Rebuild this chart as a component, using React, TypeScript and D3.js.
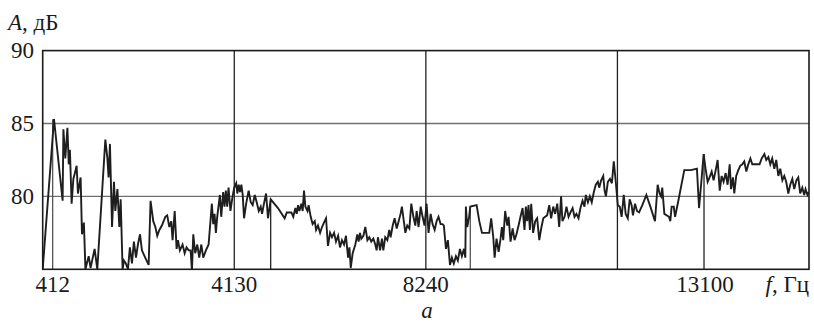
import React from 'react';
import * as d3 from 'd3';

// spectrum, x in chart steps (0..400, grid every 100), level in dB
const part1: [number, number][] = [
  [0, 75], [5.9, 85.3], [10.4, 79.7], [10.8, 84.6], [11.8, 82.6], [12.9, 84.7], [13.6, 82.2],
  [14.2, 83.2], [15.1, 79.5], [16, 81.2], [17, 81.7], [17.7, 82.1], [18.4, 80.2], [19.8, 81.3],
  [20.5, 77.4], [21.5, 78.2], [22.3, 75], [24, 75.9], [25, 75.1], [27.1, 76.4], [28.5, 75],
  [32.7, 83.9], [33.7, 82.7], [34.4, 81.3], [35.1, 83.6], [36.2, 77.9], [37.2, 81], [37.9, 79],
  [39, 80.5], [40, 77.9], [40.7, 79.8], [41.7, 75], [42.4, 75.6], [43.4, 75.4], [44.5, 75],
  [45.5, 76.5], [46.6, 75.4], [47.6, 76.9], [48.7, 75.8], [49.7, 76.7], [50.8, 77.4], [51.8, 76.3],
  [53.5, 75.8], [55.3, 75.3], [56.3, 79.7], [57.7, 78.3], [58.8, 77.9], [59.8, 77.3], [60.9, 77.7],
  [62.2, 78], [64, 78.6], [65, 78.7], [66.1, 77.9], [67.1, 78.3], [67.8, 77], [68.9, 79],
  [69.9, 76.4], [70.6, 77], [71.6, 76.3], [73, 76.7], [74.1, 76.1], [75.1, 76.5], [76.2, 76.3],
  [77.2, 76.3], [77.9, 74.9], [78.6, 77.4], [79.6, 76.1], [80.7, 76.7], [81.7, 75.8], [82.8, 76.7],
  [83.8, 75.8], [85.2, 76.3], [86.6, 76.7], [88.3, 79.5], [89, 78.1], [89.7, 78.8], [90.4, 77.5],
  [91.1, 78.6], [92.5, 80.1], [93.2, 78.6], [94.2, 80.3], [94.9, 79.3], [95.6, 80.4], [96.3, 79.3],
  [97, 80.6], [98, 79], [99.1, 80],
];

const part2: [number, number][] = [
  [100, 80.6], [101, 80.9], [101.6, 80.2], [102.3, 80.8], [103, 80.3], [103.7, 80.8], [104.4, 80.1],
  [105.1, 78.5], [106.2, 79.5], [107.5, 80.4], [108.6, 79.6], [109.6, 79.4], [110.7, 80.1],
  [111.7, 79.6], [112.8, 79], [113.8, 79.3], [114.5, 78.8], [115.5, 79.5], [116.6, 80.2],
  [117.6, 78.5], [119, 79.8], [122.8, 79.2], [126.3, 78.5], [127.4, 78.9], [129.8, 78.9],
  [130.8, 78.6], [131.9, 79.2], [132.6, 78.8], [133.3, 79.4], [134, 79], [135, 79.5], [135.7, 79],
  [136.4, 80.4], [137.1, 79.3], [138.2, 79], [138.8, 79.4], [139.9, 78.6], [140.9, 78.1],
  [142, 78.3], [142.7, 77.7], [143.7, 78], [144.8, 77.5], [145.8, 77.9], [146.8, 78.2],
  [147.9, 78.5], [148.9, 76.6], [150, 77.5], [151, 77.2], [152.1, 77.5], [153.1, 76.9],
  [154.2, 77.3], [155.2, 76.5], [156.2, 77], [157.3, 76.7], [158.3, 77.3], [159.4, 75.8],
  [160.1, 76.5], [160.8, 75.1], [161.8, 76.1], [163.2, 76.7], [164.2, 77.4], [164.9, 76.9],
  [165.6, 77.5], [166.3, 77.1], [167.4, 77.3], [168.4, 77.9], [169.5, 77], [170.5, 77.2],
  [171.5, 76.9], [172.6, 77.1], [173.6, 76.7], [174.3, 76.3], [175, 77.2], [176.1, 76.3],
  [177.1, 77.1], [177.8, 76.3], [178.8, 77.2], [179.9, 77], [180.9, 77.7], [181.6, 77.2],
  [182.7, 78], [183.7, 78.5], [184.8, 77.8], [185.8, 78.3], [186.8, 78.8], [187.5, 79.3],
  [188.6, 78.2], [189.3, 77.5], [190.3, 78], [191.4, 77.8], [192.4, 79.5], [193.5, 78.6],
  [194.5, 78], [195.2, 79], [196.2, 77.9], [197.3, 79.3], [198.3, 78.6], [199.3, 78],
];

const part3: [number, number][] = [
  [200.4, 79.5], [201.4, 77.5], [202.5, 78.8], [203.5, 78.1], [204.6, 77.7], [205.6, 78.3],
  [206.6, 78.6], [207.7, 78.1], [208.7, 78.1], [209.4, 78], [210.5, 76.4], [211.5, 77],
  [212.6, 75.3], [213.6, 75.8], [214.6, 75.4], [215.7, 75.9], [216.7, 75.6], [217.8, 76.4],
  [218.8, 75.9], [219.9, 76.4], [220.6, 75.8], [220.9, 79.3], [221.6, 77.9], [222.6, 78.6],
  [223.2, 79.3], [226.5, 79.4], [227.9, 78.3], [229.3, 77.5], [233.1, 77.5], [234.1, 78.5],
  [235.2, 77.2], [235.9, 75.8], [236.9, 77.1], [238, 76.2], [239, 77.1], [239.7, 77.9],
  [240.4, 77], [241.4, 79], [242.5, 78], [243.2, 78.6], [244.2, 76.9], [245.3, 77.8], [246.3, 77],
  [247.3, 77.4], [248.4, 78], [249.4, 78.6], [250.5, 79.2], [251.5, 77.7], [252.2, 79.3],
  [252.9, 78.3], [253.6, 79.4], [254.3, 77.7], [255, 79.5], [256, 77.5], [257.1, 78.3],
  [258.1, 78.5], [259.2, 77], [260.2, 77.8], [261.3, 78.5], [262.3, 78.6], [263.3, 78.7],
  [264.4, 79.4], [265.4, 78.5], [266.5, 79.3], [267.5, 78.8], [268.6, 79.5], [269.6, 77.9],
  [270.6, 80], [271.3, 78.3], [272.4, 78.6], [273.4, 79.3], [274.5, 78.6], [275.5, 78.9],
  [276.6, 79.2], [277.6, 78.6], [278.6, 78.8], [279.7, 78.5], [280.7, 79.2], [281.8, 79.7],
  [282.8, 79.3], [283.5, 80.1], [284.6, 79.6], [285.6, 80], [286.6, 79.6], [287.7, 80.3],
  [288.7, 80.8], [289.8, 81], [290.5, 80.6], [291.5, 81.1], [292.6, 81.4], [293.3, 80.4],
  [294, 80], [295, 81], [296.1, 81.2], [297.1, 80.9], [298.1, 82.4], [299.2, 80.9], [300.2, 79.4],
];

const part4: [number, number][] = [
  [301.2, 79.3], [302.2, 78.6], [303.3, 80.1], [304.3, 78.8], [305.4, 78.5], [306.4, 79.8],
  [307.4, 79.4], [308.1, 78.7], [309.2, 79.5], [310.2, 79], [311.3, 78.9], [313, 79.4],
  [315.1, 80.1], [317.2, 79.3], [319.6, 78.3], [321, 80.8], [322, 80.2], [322.8, 80],
  [323.4, 80.6], [324.5, 78.8], [326.9, 78.6], [327.6, 78.3], [328.3, 79.3], [329.4, 79.3],
  [330.1, 78.6], [331.8, 79.7], [334.9, 81.8], [338.4, 81.8], [341.5, 81.9], [342.6, 79.2],
  [344, 81.3], [345, 82.9], [346, 81.9], [347.1, 81], [348.1, 81.3], [349.2, 81.7], [350.2, 81.1],
  [351.3, 81.8], [352.3, 82.5], [353.4, 80.4], [354.4, 81.4], [355.4, 81], [356.5, 81.6],
  [357.5, 80.8], [358.6, 82.2], [359.3, 80.5], [360.3, 81.3], [361, 80.2], [362, 81.4],
  [363.1, 81.8], [364.1, 82.1], [365.2, 82.2], [366.2, 82.4], [367.3, 81.7], [368.3, 82.2],
  [369.4, 82.6], [370.4, 82.2], [371.8, 82.2], [372.8, 82.2], [374.2, 82.2], [375.3, 82.6],
  [376.7, 82.9], [377.7, 82.5], [378.8, 82.7], [379.8, 82.2], [380.8, 82.6], [381.9, 81.9],
  [382.9, 82.5], [384, 81.4], [385, 81.9], [386.1, 81.1], [387.1, 81.4], [388.1, 81],
  [389.2, 80.2], [390.2, 80.8], [391.3, 81.2], [392.3, 80.5], [393.4, 81.1], [394.4, 81.3],
  [395.4, 80.2], [396.5, 80.6], [397.5, 80.1], [398.2, 80.5], [399.2, 80.1], [400, 80.3],
];

const spectrum = [...part1, ...part2, ...part3, ...part4];

// drop lines under the marked frequencies
const markerPos = [5.2, 119, 223.2, 345.2];
const markerTop = [85.3, 79.8, 79.3, 82.9];

const gridX = [100, 200, 300];
const gridY = [80, 85];
const yTicks = [80, 85, 90];
const xTickPos = [5.2, 100, 200, 345.7];
const xTickLabels = ['412', '4130', '8240', '13100'];

const W = 814;
const H = 325;
const left = 42.7;
const right = 809;
const top = 50.6;
const bottom = 269.3;

const serif = "'Liberation Serif', 'Times New Roman', serif";

const App = () => {
  const x = d3.scaleLinear().domain([0, 400]).range([left, right]);
  const y = d3.scaleLinear().domain([75, 90]).range([bottom, top]);
  const line = d3
    .line<[number, number]>()
    .x((d) => x(d[0]))
    .y((d) => y(d[1]));

  const txt = { fontFamily: serif, fill: '#1a1a1a' };

  return (
    <svg width={W} height={H} style={{ position: 'absolute', left: 0, top: 0, background: '#fff' }}>
      <defs>
        <clipPath id="plot">
          <rect x={left} y={top} width={right - left} height={bottom - top} />
        </clipPath>
      </defs>

      {gridY.map((v) => (
        <line key={'gy' + v} x1={left} x2={right} y1={y(v)} y2={y(v)} stroke="#707070" strokeWidth={1.4} />
      ))}
      {gridX.map((v) => (
        <line key={'gx' + v} x1={x(v)} x2={x(v)} y1={top} y2={bottom} stroke="#222" strokeWidth={1.3} />
      ))}
      {markerPos.map((p, i) => (
        <line
          key={'m' + i}
          x1={x(p)}
          x2={x(p)}
          y1={y(markerTop[i])}
          y2={bottom}
          stroke={i % 2 === 0 ? '#555' : '#222'}
          strokeWidth={1.3}
        />
      ))}

      <path
        d={line(spectrum) ?? ''}
        fill="none"
        stroke="#1e1e1e"
        strokeWidth={1.9}
        strokeLinejoin="miter"
        clipPath="url(#plot)"
      />

      <rect x={left} y={top} width={right - left} height={bottom - top} fill="none" stroke="#1a1a1a" strokeWidth={1.6} />

      {yTicks.map((v) => (
        <text key={'yt' + v} x={34} y={y(v) + 7.5} textAnchor="end" fontSize={23} style={txt}>
          {v}
        </text>
      ))}
      {xTickPos.map((p, i) => (
        <text key={'xt' + i} x={x(p)} y={292} textAnchor="middle" fontSize={23} style={txt}>
          {xTickLabels[i]}
        </text>
      ))}

      <text x={8} y={30} fontSize={23} style={txt}>
        <tspan fontStyle="italic">A</tspan>, дБ
      </text>
      <text x={809} y={292} textAnchor="end" fontSize={23} style={txt}>
        <tspan fontStyle="italic">f</tspan>, Гц
      </text>
      <text x={427} y={318} textAnchor="middle" fontSize={23} fontStyle="italic" style={txt}>
        а
      </text>
    </svg>
  );
};

export default App;
